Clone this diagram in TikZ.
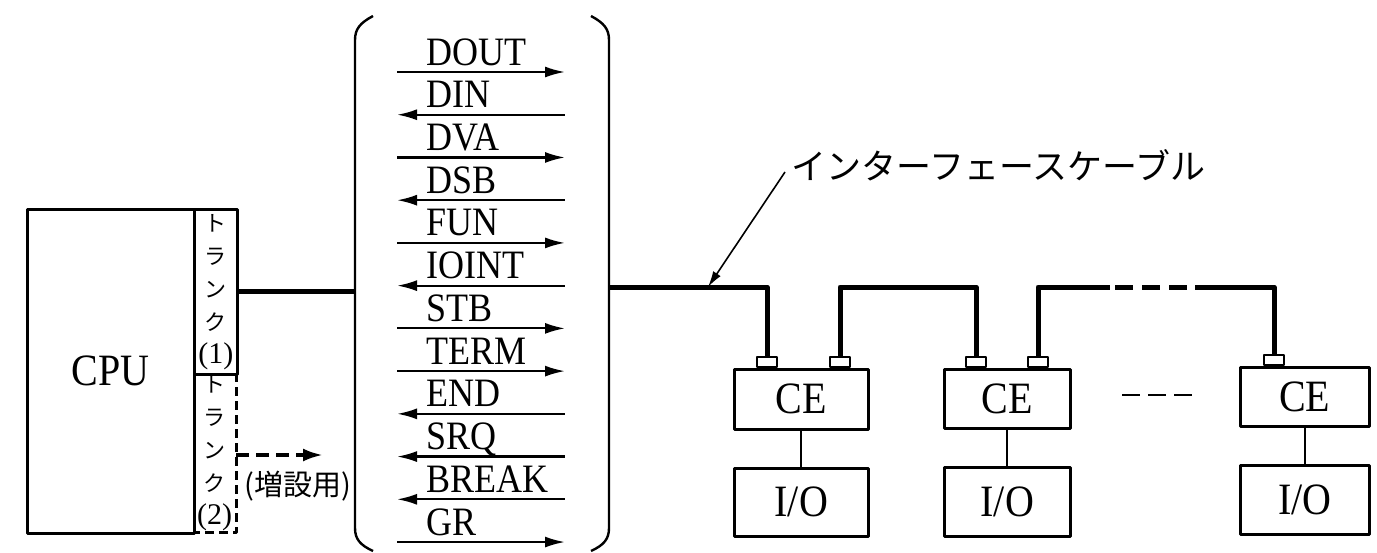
\documentclass[tikz,border=0pt]{standalone}
\usepackage{fontspec}
\setmainfont{Liberation Serif}
\newfontfamily\jp{Noto Sans CJK JP}
\usetikzlibrary{arrows.meta}
\newcommand\tallx[1]{\scalebox{1}[1.12]{#1}}
\begin{document}
\begin{tikzpicture}[x=1pt,y=-1pt,line join=round,
  box/.style={draw,line width=2.6pt,inner sep=0pt},
  cable/.style={line width=5pt},
  sig/.style={line width=2.2pt},
  sigR/.style={sig,-{Latex[length=20pt,width=11pt]}},
  sigL/.style={sig,{Latex[length=20pt,width=11pt]}-},
  lbl/.style={font=\fontsize{36}{36}\selectfont,inner sep=0pt},
  big/.style={font=\fontsize{40}{40}\selectfont},
  trunk/.style={align=center,inner sep=0pt,font=\jp\fontsize{22}{33}\selectfont},
  conn/.style={draw,line width=2pt,minimum width=20pt,minimum height=10pt,inner sep=0pt},
  unit/.style={box,anchor=north west,big}
]
\useasboundingbox (0,0) rectangle (1377,552);

% CPU and trunks
\node[box,anchor=north west,minimum width=167pt,minimum height=324pt,big] (cpu) at (26,208) {\tallx{CPU}};
\node[box,anchor=north west,minimum width=43pt,minimum height=165pt,trunk] (t1) at (193,208)
  {ト\\ラ\\ン\\ク\\{\rmfamily\fontsize{30}{30}\selectfont(1)}};
\node[anchor=north west,minimum width=43pt,minimum height=159pt,trunk] (t2) at (193,373)
  {ト\\ラ\\ン\\ク\\{\rmfamily\fontsize{30}{30}\selectfont(2)}};
\draw[line width=2.6pt,dash pattern=on 9pt off 5pt] (t2.north east) -- (t2.south east) -- (t2.south west);

% expansion arrow
\coordinate (exS) at (236,455);
\coordinate (exE) at (323,455);
\draw[line width=3.5pt,dash pattern=on 13pt off 7pt,-{Latex[length=20pt,width=13pt]}] (exS) -- (exE);
\node[font=\jp\fontsize{29}{29}\selectfont,inner sep=0pt] (zo) at (298,486) {(増設用)};

% bus bracket
\node[minimum width=254pt,minimum height=533pt,anchor=north west,inner sep=0pt] (bus) at (355,17) {};
\draw[line width=2.4pt] (373,16) .. controls (360,23) and (355,29) .. (355,40) -- (355,528)
  .. controls (355,539) and (360,545) .. (373,551);
\draw[line width=2.4pt] (591,16) .. controls (604,23) and (609,29) .. (609,40) -- (609,528)
  .. controls (609,539) and (604,545) .. (591,551);

% signals
\foreach \lab/\dir [count=\i from 0] in {DOUT/sigR,DIN/sigL,DVA/sigR,DSB/sigL,FUN/sigR,IOINT/sigL,STB/sigR,TERM/sigR,END/sigL,SRQ/sigL,BREAK/sigL,GR/sigR}{
  \pgfmathsetmacro\yy{72+42.73*\i}
  \coordinate (sa\i) at (397,\yy);
  \coordinate (sb\i) at (565,\yy);
  \draw[\dir] (sa\i) -- (sb\i);
  \node[lbl,anchor=base west] (sl\i) at (426,\yy-7) {\tallx{\lab}};
}

% cable from trunk 1 to bus
\draw[cable] (t1.east) -- (t1.east -| bus.west);

% CE and I/O units
\node[unit,minimum width=134pt,minimum height=60pt] (ce1) at (733,368) {\tallx{CE}};
\node[unit,minimum width=134pt,minimum height=68pt] (io1) at (733,467) {\tallx{I/O}};
\node[unit,minimum width=126pt,minimum height=59pt] (ce2) at (943,368) {\tallx{CE}};
\node[unit,minimum width=126pt,minimum height=69pt] (io2) at (943,466) {\tallx{I/O}};
\node[unit,minimum width=129pt,minimum height=59pt] (ce3) at (1239,366) {\tallx{CE}};
\node[unit,minimum width=129pt,minimum height=69pt] (io3) at (1239,464) {\tallx{I/O}};
\foreach \k in {1,2,3}{\draw[line width=2pt] (ce\k.south) -- (io\k.north);}

% connectors
\node[conn,anchor=south] (c1a) at (767,368) {};
\node[conn,anchor=south] (c1b) at (840,368) {};
\node[conn,anchor=south] (c2a) at (976,368) {};
\node[conn,anchor=south] (c2b) at (1038,368) {};
\node[conn,anchor=south] (c3a) at (1274,366) {};

% cable network
\coordinate (cy) at (0,287);
\draw[cable] (bus.east |- cy) -- (c1a.north |- cy) -- (c1a.north);
\draw[cable] (c1b.north) -- (c1b.north |- cy) -- (c2a.north |- cy) -- (c2a.north);
\coordinate (g1) at (1110,287);
\coordinate (g2) at (1115,287);
\coordinate (g3) at (1187,287);
\coordinate (g4) at (1195,287);
\draw[cable] (c2b.north) -- (c2b.north |- cy) -- (g1);
\draw[cable,dash pattern=on 18pt off 9pt] (g2) -- (g3);
\draw[cable] (g4) -- (c3a.north |- cy) -- (c3a.north);

% ellipsis between units
\coordinate (el1) at (1122,395);
\coordinate (el2) at (1192,395);
\draw[line width=2.6pt,dash pattern=on 18pt off 8pt] (el1) -- (el2);

% cable label
\node[font=\jp\fontsize{35}{35}\selectfont,anchor=west,inner sep=0pt] (ifc) at (791,165) {インターフェースケーブル};
\coordinate (ldS) at (785,172);
\coordinate (ldE) at (708,287);
\draw[line width=1.6pt,-{Latex[length=16pt,width=9pt]}] (ldS) -- (ldE);
\end{tikzpicture}
\end{document}
